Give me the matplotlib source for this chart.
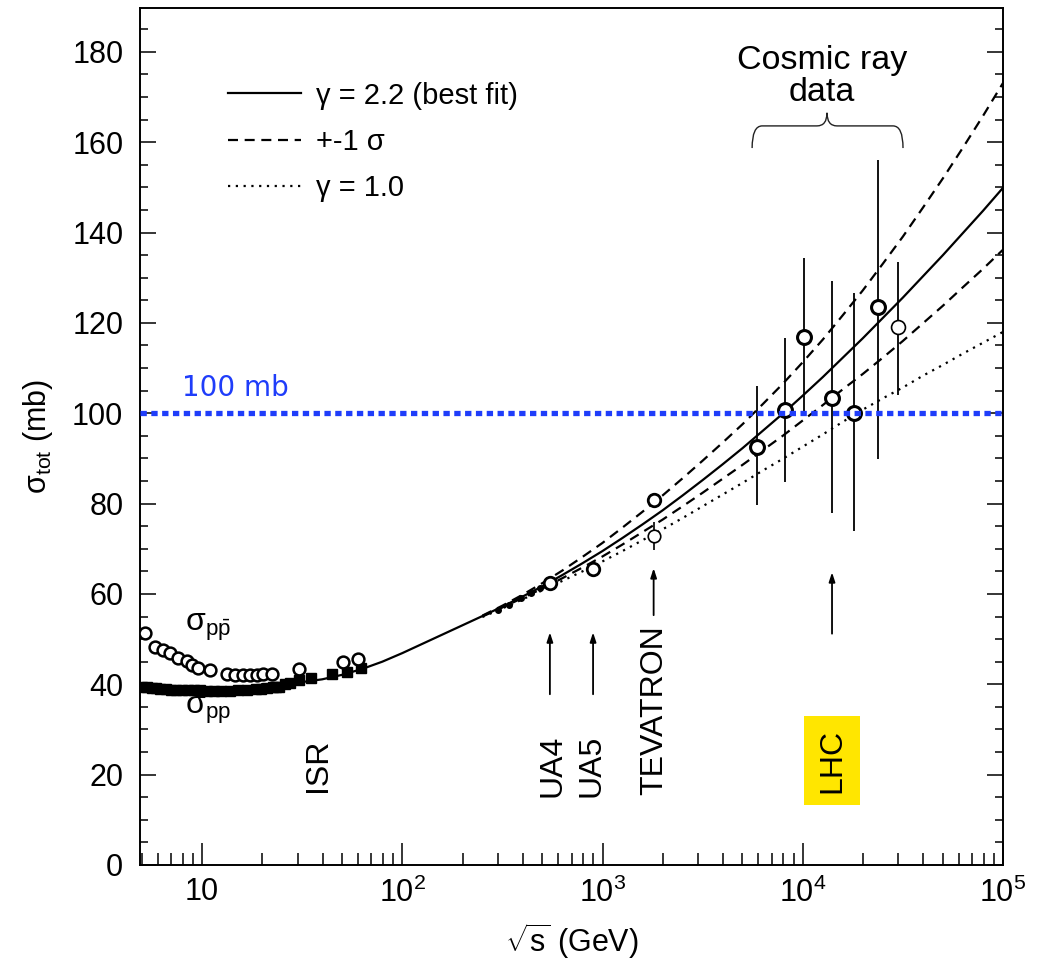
import numpy as np
import matplotlib
matplotlib.use('Agg')
import matplotlib.pyplot as plt
from matplotlib.ticker import FixedLocator, MultipleLocator, NullFormatter
from matplotlib.path import Path
from matplotlib.patches import PathPatch

plt.rcParams['font.family'] = ['Liberation Sans', 'DejaVu Sans']
plt.rcParams['mathtext.fontset'] = 'custom'
plt.rcParams['mathtext.rm'] = 'Liberation Sans'
plt.rcParams['mathtext.it'] = 'Liberation Sans:italic'
plt.rcParams['mathtext.bf'] = 'Liberation Sans:bold'

# ---------------- data ----------------
# fit curves (log10 of sqrt(s) in GeV, sigma_tot in mb)
best_fit_log = [1.3, 1.4, 1.5, 1.6, 1.7, 1.8, 1.9, 2.0, 2.1, 2.2, 2.3, 2.4, 2.5, 2.6,
                2.7, 2.8, 2.9, 3.0, 3.1, 3.2, 3.3, 3.4, 3.5, 3.6, 3.7, 3.8, 3.9, 4.0,
                4.1, 4.2, 4.3, 4.4, 4.5, 4.6, 4.7, 4.8, 4.9, 5.0]
best_fit_sigma = [40.0, 40.1, 40.5, 41.1, 42.1, 43.4, 45.0, 46.9, 48.95, 51.0, 53.05,
                  55.1, 57.2, 59.4, 61.7, 64.2, 66.8, 69.5, 72.4, 75.4, 78.5, 81.8,
                  85.2, 88.7, 92.3, 96.1, 99.9, 103.9, 108.0, 112.3, 116.6, 121.1,
                  125.6, 130.3, 135.0, 139.9, 144.8, 149.9]

band_log = [2.4, 2.5, 2.6, 2.7, 2.8, 2.9, 3.0, 3.1, 3.2, 3.3, 3.4, 3.5, 3.6, 3.7, 3.8,
            3.9, 4.0, 4.1, 4.2, 4.3, 4.4, 4.5, 4.6, 4.7, 4.8, 4.9, 5.0]
upper_sigma = [55.2, 57.4, 59.8, 62.4, 65.2, 68.2, 71.3, 74.7, 78.2, 81.8, 85.6, 89.5,
               93.5, 97.6, 102.0, 106.5, 111.3, 116.3, 121.7, 127.2, 133.1, 139.1,
               145.5, 152.0, 158.8, 165.8, 173.1]
lower_sigma = [55.0, 57.0, 59.1, 61.2, 63.5, 65.85, 68.3, 70.95, 73.7, 76.45, 79.4,
               82.4, 85.5, 88.6, 91.8, 95.0, 98.4, 101.8, 105.3, 108.7, 112.3, 116.0,
               119.9, 123.8, 127.9, 131.95, 136.2]
gamma1_sigma = [54.9, 56.8, 58.8, 60.8, 62.9, 65.0, 67.2, 69.5, 71.9, 74.3, 76.8, 79.4,
                82.0, 84.6, 87.3, 89.9, 92.6, 95.3, 98.1, 100.8, 103.3, 105.7, 108.3,
                110.7, 113.2, 115.6, 118.0]

# accelerator p-pbar data (open circles)
ppbar_sqrt_s = [5.19, 5.82, 6.38, 6.92, 7.59, 8.42, 8.91, 9.55, 10.96, 13.3, 14.6, 16.0,
                17.4, 18.8, 20.2, 22.4, 30.4, 50.6, 60.1]
ppbar_sigma = [51.3, 48.3, 47.6, 46.9, 45.8, 45.2, 44.3, 43.6, 43.2, 42.3, 42.1, 42.1,
               42.1, 42.1, 42.3, 42.3, 43.3, 45.0, 45.6]

# accelerator pp data (filled squares)
pp_sqrt_s = [5.0, 5.3, 5.6, 5.9, 6.2, 6.6, 7.0, 7.4, 7.9, 8.5, 9.1, 9.8, 10.6, 11.5,
             12.5, 13.8, 15.2, 16.8, 18.5, 19.7, 21.0, 22.5, 23.5, 24.3, 26.0, 27.4,
             30.5, 35.0, 44.7, 52.8, 62.5]
pp_sigma = [39.3, 39.3, 39.2, 39.2, 39.0, 38.9, 38.8, 38.8, 38.7, 38.7, 38.7, 38.7, 38.6,
            38.6, 38.6, 38.6, 38.7, 38.8, 38.9, 39.0, 39.1, 39.3, 39.4, 39.5, 40.0, 40.3,
            41.0, 41.5, 42.3, 42.7, 43.6]

# SPS collider small points
sps_sqrt_s = [300, 340, 390, 440, 490]
sps_sigma = [56.5, 57.6, 59.0, 60.2, 61.3]

# collider points (UA4, UA5, Tevatron)
collider_sqrt_s = [546, 900, 1800]
collider_sigma = [62.4, 65.5, 80.8]
e710_sqrt_s = [1800]
e710_sigma = [72.8]
e710_err = [3.1]

# cosmic ray data (open circles with error bars)
cosmic_sqrt_s = [5890, 8150, 10200, 14000, 18000, 23800]
cosmic_sigma = [92.5, 100.7, 116.9, 103.4, 100.0, 123.5]
cosmic_low = [79.7, 84.8, 99.6, 77.9, 73.9, 89.9]
cosmic_high = [106.0, 116.7, 134.4, 129.3, 126.6, 156.0]
cosmic2_sqrt_s = [29900]
cosmic2_sigma = [119.1]
cosmic2_low = [104.0]
cosmic2_high = [133.5]

# machine labels and arrows
machines = ['ISR', 'UA4', 'UA5', 'TEVATRON', 'LHC']
machine_text_x = [37.9, 560, 877, 1807, 14000]
machine_text_y = [16.2, 15.0, 15.0, 15.5, 16.0]
arrow_x = [546, 897, 1800, 14000]
arrow_y0 = [37.8, 37.8, 55.3, 51.2]
arrow_y1 = [51.5, 51.5, 65.7, 64.8]

x_tick_values = [10, 100, 1000, 10000, 100000]
x_tick_labels = ['10', '$10^{2}$', '$10^{3}$', '$10^{4}$', '$10^{5}$']
y_tick_values = [0, 20, 40, 60, 80, 100, 120, 140, 160, 180]

ref_level = 100.0

# ---------------- figure ----------------
fig = plt.figure(figsize=(10.42, 9.63), dpi=100)
ax = fig.add_axes([140 / 1042, 1 - 865 / 963, 863 / 1042, 857 / 963])
ax.set_xscale('log')
ax.set_xlim(4.9, 1e5)
ax.set_ylim(0, 189.7)

lw = 1.6
ax.plot(10 ** np.array(best_fit_log), best_fit_sigma, color='black', lw=lw,
        label='γ = 2.2 (best fit)', zorder=3)
ax.plot(10 ** np.array(band_log), upper_sigma, color='black', lw=lw,
        linestyle=(0, (4.5, 3.0)), label='+-1 σ', zorder=3)
ax.plot(10 ** np.array(band_log), lower_sigma, color='black', lw=lw,
        linestyle=(0, (4.5, 3.0)), zorder=3)
ax.plot(10 ** np.array(band_log), gamma1_sigma, color='black', lw=lw,
        linestyle=(0, (1, 2.5)), label='γ = 1.0', zorder=3)

# data points
ax.plot(pp_sqrt_s, pp_sigma, linestyle='none', marker='s', ms=7.5, color='black', zorder=4)
ax.plot(ppbar_sqrt_s, ppbar_sigma, linestyle='none', marker='o', ms=8.5, mfc='white',
        mec='black', mew=1.8, zorder=5)
ax.plot(sps_sqrt_s, sps_sigma, linestyle='none', marker='o', ms=4, color='black', zorder=4)
ax.plot(collider_sqrt_s, collider_sigma, linestyle='none', marker='o', ms=9, mfc='white',
        mec='black', mew=2.0, zorder=5)
ax.errorbar(e710_sqrt_s, e710_sigma, yerr=e710_err, fmt='o', ms=9, mfc='white',
            mec='black', mew=1.2, ecolor='black', elinewidth=1.2, capsize=0, zorder=5)

c_s = np.array(cosmic_sigma)
ax.errorbar(cosmic_sqrt_s, cosmic_sigma,
            yerr=[c_s - np.array(cosmic_low), np.array(cosmic_high) - c_s],
            fmt='o', ms=10, mfc='white', mec='black', mew=2.2, ecolor='black',
            elinewidth=1.3, capsize=0, zorder=5)
c2 = np.array(cosmic2_sigma)
ax.errorbar(cosmic2_sqrt_s, cosmic2_sigma,
            yerr=[c2 - np.array(cosmic2_low), np.array(cosmic2_high) - c2],
            fmt='o', ms=10, mfc='white', mec='black', mew=1.2, ecolor='black',
            elinewidth=1.3, capsize=0, zorder=5)

# 100 mb reference line
blue = '#1f3dfa'
ax.axhline(ref_level, color=blue, lw=3.8, linestyle=(0, (1.2, 0.85)),
           dash_capstyle='butt', zorder=6)
ax.text(7.95, ref_level + 2.5, '100 mb', color=blue, fontsize=20,
        family='DejaVu Sans', ha='left', va='bottom')

# machine labels
for i, name in enumerate(machines):
    kw = {}
    if name == 'LHC':
        kw['bbox'] = dict(boxstyle='square,pad=0.4', facecolor='#ffe600',
                          edgecolor='none')
    ax.text(machine_text_x[i], machine_text_y[i], name, rotation=90, fontsize=23,
            ha='center', va='bottom', **kw)
for i in range(len(arrow_x)):
    ax.annotate('', xy=(arrow_x[i], arrow_y1[i]), xytext=(arrow_x[i], arrow_y0[i]),
                arrowprops=dict(arrowstyle='-|>,head_length=0.55,head_width=0.18',
                                color='black', lw=1.3, shrinkA=0, shrinkB=0))

# sigma labels
ax.text(8.2, 52.7, r'σ$_{\mathrm{p}\bar{\mathrm{p}}}$', fontsize=23, ha='left',
        va='center')
ax.text(8.2, 34.3, r'σ$_{\mathrm{pp}}$', fontsize=23, ha='left', va='center')

# cosmic ray brace and text
lx0 = np.log10(min(cosmic_sqrt_s)) - 0.023
lx1 = np.log10(max(cosmic2_sqrt_s)) + 0.025
lm = 4.121
w = 0.05
y_end, y_flat, y_tip = 158.7, 163.6, 166.5
verts = [(lx0, y_end), (lx0, y_flat), (lx0 + w, y_flat), (lm - w, y_flat),
         (lm, y_flat), (lm, y_tip), (lm, y_flat), (lm + w, y_flat),
         (lx1 - w, y_flat), (lx1, y_flat), (lx1, y_end)]
codes = [Path.MOVETO, Path.CURVE3, Path.CURVE3, Path.LINETO, Path.CURVE3, Path.CURVE3,
         Path.CURVE3, Path.CURVE3, Path.LINETO, Path.CURVE3, Path.CURVE3]
verts = [(10 ** vx, vy) for vx, vy in verts]
ax.add_patch(PathPatch(Path(verts, codes), facecolor='none', edgecolor='#222222',
                       lw=1.0, zorder=3))
ax.text(12500, 174.6, 'Cosmic ray\ndata', fontsize=24.5, ha='center', va='center',
        linespacing=1.05)

# legend
leg = ax.legend(loc='upper left', bbox_to_anchor=(0.102, 0.914), frameon=False,
                fontsize=21, handlelength=2.5, handletextpad=0.5, labelspacing=0.62,
                borderpad=0, borderaxespad=0)

# axes styling
ax.xaxis.set_major_locator(FixedLocator(x_tick_values))
ax.xaxis.set_major_formatter(plt.FixedFormatter(x_tick_labels))
minor_x = [m * 10 ** e for e in range(0, 5) for m in range(2, 10)]
ax.xaxis.set_minor_locator(FixedLocator(minor_x))
ax.xaxis.set_minor_formatter(NullFormatter())
ax.yaxis.set_major_locator(FixedLocator(y_tick_values))
ax.yaxis.set_minor_locator(MultipleLocator(5))

ax.tick_params(axis='x', which='major', direction='in', length=16, width=1.1,
               labelsize=22, pad=9, top=False)
ax.tick_params(axis='x', which='minor', direction='in', length=9, width=1.1, top=False)
ax.tick_params(axis='y', which='major', direction='in', length=11.5, width=1.1,
               labelsize=22, pad=12, right=True)
ax.tick_params(axis='y', which='minor', direction='in', length=6, width=1.1, right=True)
for sp in ax.spines.values():
    sp.set_linewidth(1.4)

ax.set_xlabel(r'$\sqrt{\mathrm{s}}$ (GeV)', fontsize=22, labelpad=9)
ax.set_ylabel(r'σ$_{\mathrm{tot}}$ (mb)', fontsize=22, labelpad=12)

fig.savefig('out.png', dpi=100)
